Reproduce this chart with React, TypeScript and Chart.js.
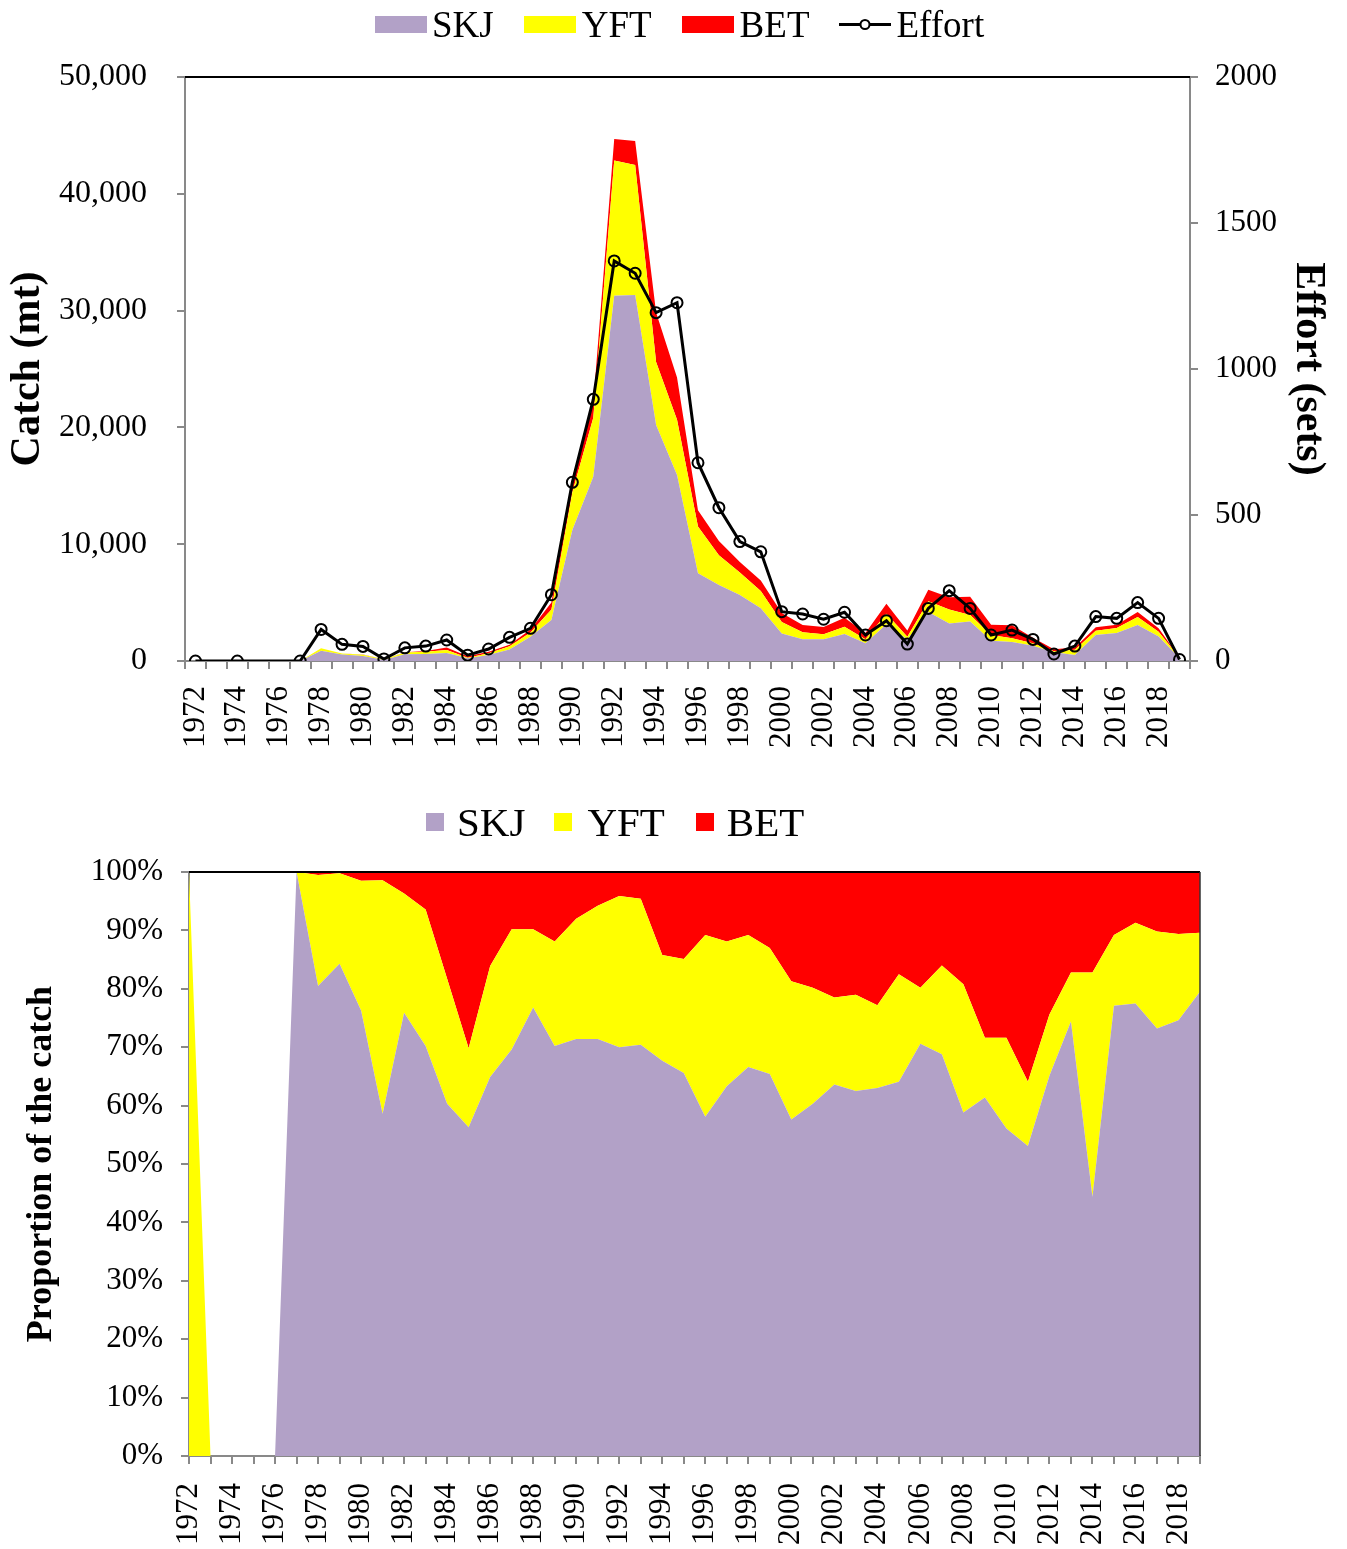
import React, { useEffect, useRef } from 'react';
import { Chart, registerables } from 'chart.js';

Chart.register(...registerables);

const years = [
  '1972', '1973', '1974', '1975', '1976', '1977', '1978', '1979', '1980', '1981',
  '1982', '1983', '1984', '1985', '1986', '1987', '1988', '1989', '1990', '1991',
  '1992', '1993', '1994', '1995', '1996', '1997', '1998', '1999', '2000', '2001',
  '2002', '2003', '2004', '2005', '2006', '2007', '2008', '2009', '2010', '2011',
  '2012', '2013', '2014', '2015', '2016', '2017', '2018', '2019',
];

// Catch (mt)
const skjCatch = [0, 0, 0, 0, 0, 5, 886, 548, 420, 88, 569, 597, 693, 225, 519, 974, 2074, 3510, 11210, 15780, 31280, 31335, 20205, 15925, 7505, 6507, 5650, 4509, 2362, 1855, 1855, 2313, 1512, 3141, 1836, 4197, 3205, 3377, 1739, 1620, 1302, 744, 511, 2236, 2403, 3074, 2089, 239];
const yftCatch = [20, 0, 0, 0, 0, 0, 209, 101, 122, 60, 153, 199, 246, 54, 152, 288, 362, 895, 3234, 5039, 11575, 11128, 5402, 4734, 4017, 2549, 1917, 1489, 972, 612, 435, 611, 341, 902, 250, 927, 1199, 561, 481, 336, 210, 84, 442, 351, 428, 697, 414, 30];
const betCatch = [0, 0, 0, 0, 0, 0, 5, 1, 8, 2, 28, 54, 210, 121, 129, 137, 265, 595, 1256, 1282, 1832, 2047, 4238, 3617, 1395, 1223, 916, 896, 767, 609, 627, 777, 547, 858, 515, 976, 1046, 1562, 880, 1095, 488, 172, 198, 313, 270, 428, 297, 31];

// Effort (sets)
const effort = [0, null, 0, null, null, 0, 108, 57, 50, 7, 45, 51, 72, 20, 41, 81, 112, 227, 612, 896, 1370, 1328, 1193, 1227, 679, 525, 409, 374, 169, 161, 143, 167, 89, 138, 58, 180, 241, 180, 89, 106, 74, 24, 51, 152, 146, 200, 146, 5];

// Proportion of the catch (%)
const skjPct = [0, 0, 0, 0, 0, 100, 80.5, 84.3, 76.3, 58.6, 75.9, 70.2, 60.3, 56.3, 64.9, 69.6, 76.8, 70.2, 71.4, 71.4, 70.0, 70.4, 67.7, 65.6, 58.1, 63.3, 66.6, 65.4, 57.6, 60.3, 63.6, 62.5, 63.0, 64.1, 70.6, 68.8, 58.8, 61.4, 56.1, 53.1, 65.1, 74.4, 44.4, 77.1, 77.5, 73.2, 74.6, 79.5];
const yftPct = [100, 0, 0, 0, 0, 0, 19.0, 15.5, 22.2, 40.0, 20.4, 23.4, 21.4, 13.5, 19.0, 20.6, 13.4, 17.9, 20.6, 22.8, 25.9, 25.0, 18.1, 19.5, 31.1, 24.8, 22.6, 21.6, 23.7, 19.9, 14.9, 16.5, 14.2, 18.4, 9.6, 15.2, 22.0, 10.2, 15.5, 11.0, 10.5, 8.4, 38.4, 12.1, 13.8, 16.6, 14.8, 10.1];
const betPct = [0, 0, 0, 0, 0, 0, 0.5, 0.2, 1.5, 1.4, 3.7, 6.4, 18.3, 30.2, 16.1, 9.8, 9.8, 11.9, 8.0, 5.8, 4.1, 4.6, 14.2, 14.9, 10.8, 11.9, 10.8, 13.0, 18.7, 19.8, 21.5, 21.0, 22.8, 17.5, 19.8, 16.0, 19.2, 28.4, 28.4, 35.9, 24.4, 17.2, 17.2, 10.8, 8.7, 10.2, 10.6, 10.4];

const catchTicks = [0, 10000, 20000, 30000, 40000, 50000];
const effortTicks = [0, 500, 1000, 1500, 2000];
const pctTicks = [0, 10, 20, 30, 40, 50, 60, 70, 80, 90, 100];

const FONT = '"Liberation Serif", "Times New Roman", Times, serif';
const C_SKJ = '#B2A1C7';
const C_YFT = '#FFFF00';
const C_BET = '#FF0000';
const AXIS = '#898989';

const framePlugin = (right: boolean) => ({
  id: 'frame',
  afterDatasetsDraw(chart: any) {
    const { ctx, chartArea: a } = chart;
    ctx.save();
    ctx.strokeStyle = '#000';
    ctx.lineWidth = 2;
    ctx.beginPath();
    ctx.moveTo(a.left, a.top);
    ctx.lineTo(a.right, a.top);
    ctx.stroke();
    if (right) {
      ctx.strokeStyle = '#333';
      ctx.lineWidth = 1.5;
      ctx.beginPath();
      ctx.moveTo(a.right, a.top);
      ctx.lineTo(a.right, a.bottom);
      ctx.stroke();
    }
    ctx.restore();
  },
});

const xScale = (offset: boolean, height: number, pad: number) => ({
  type: 'category',
  offset,
  z: 1,
  grid: { display: true, drawOnChartArea: false, drawTicks: true, tickLength: 8, color: AXIS, lineWidth: 2, offset },
  border: { display: true, color: AXIS, width: 2 },
  ticks: {
    autoSkip: false,
    maxRotation: 90,
    minRotation: 90,
    padding: pad,
    color: '#000',
    font: { family: FONT, size: 31 },
    callback: (_v: any, i: number) => (i % 2 === 0 ? years[i] : ''),
  },
  afterFit: (s: any) => { s.height = height; },
});

const area = (label: string, data: number[], color: string, fill: any) => ({
  label,
  data,
  backgroundColor: color,
  borderColor: 'rgba(0,0,0,0)',
  borderWidth: 0,
  pointRadius: 0,
  fill,
  tension: 0,
  yAxisID: 'y',
});

export default function App() {
  const topRef = useRef<HTMLCanvasElement>(null);
  const botRef = useRef<HTMLCanvasElement>(null);

  useEffect(() => {
    const top = new Chart(topRef.current as HTMLCanvasElement, {
      type: 'line',
      data: {
        labels: years,
        datasets: [
          area('SKJ', skjCatch, C_SKJ, 'origin'),
          area('YFT', yftCatch, C_YFT, '-1'),
          area('BET', betCatch, C_BET, '-1'),
          {
            label: 'Effort',
            data: effort,
            yAxisID: 'y1',
            borderColor: '#000',
            borderWidth: 3,
            pointRadius: 5.5,
            pointBorderWidth: 2,
            pointBorderColor: '#000',
            pointBackgroundColor: 'rgba(255,255,255,0)',
            spanGaps: true,
            fill: false,
            tension: 0,
            order: -1,
          },
        ] as any,
      },
      options: {
        animation: false,
        responsive: false,
        maintainAspectRatio: false,
        events: [],
        layout: { padding: { top: 77, left: 0, right: 0, bottom: 0 } },
        plugins: { legend: { display: false }, tooltip: { enabled: false } },
        scales: {
          x: xScale(true, 109, 17) as any,
          y: {
            type: 'linear',
            position: 'left',
            stacked: true,
            min: 0,
            max: 50000,
            z: 1,
            afterBuildTicks: (s: any) => { s.ticks = catchTicks.map((v) => ({ value: v })); },
            grid: { drawOnChartArea: false, tickLength: 8, color: AXIS, lineWidth: 2 },
            border: { display: true, color: AXIS, width: 2 },
            ticks: {
              padding: 30,
              color: '#000',
              font: { family: FONT, size: 32 },
              callback: (v: any) => Number(v).toLocaleString('en-US'),
            },
            title: {
              display: true,
              text: 'Catch (mt)',
              color: '#000',
              font: { family: FONT, size: 42, weight: 'bold', lineHeight: 1.2 },
              padding: { top: 3, bottom: 0 },
            },
            afterFit: (s: any) => { s.width = 185; },
          },
          y1: {
            type: 'linear',
            position: 'right',
            min: 0,
            max: 2000,
            z: 1,
            afterBuildTicks: (s: any) => { s.ticks = effortTicks.map((v) => ({ value: v })); },
            grid: { drawOnChartArea: false, tickLength: 8, color: AXIS, lineWidth: 2 },
            border: { display: true, color: AXIS, width: 2 },
            ticks: {
              padding: 17,
              color: '#000',
              font: { family: FONT, size: 31 },
              callback: (v: any) => String(v),
            },
            title: {
              display: true,
              text: 'Effort (sets)',
              color: '#000',
              font: { family: FONT, size: 42, weight: 'bold', lineHeight: 1.2 },
              padding: { top: 14, bottom: 0 },
            },
            afterFit: (s: any) => { s.width = 157; },
          },
        } as any,
      },
      plugins: [framePlugin(false)],
    } as any);

    const bot = new Chart(botRef.current as HTMLCanvasElement, {
      type: 'line',
      data: {
        labels: years,
        datasets: [
          area('SKJ', skjPct, C_SKJ, 'origin'),
          area('YFT', yftPct, C_YFT, '-1'),
          area('BET', betPct, C_BET, '-1'),
        ] as any,
      },
      options: {
        animation: false,
        responsive: false,
        maintainAspectRatio: false,
        events: [],
        layout: { padding: { top: 97, left: 0, right: 147, bottom: 0 } },
        plugins: { legend: { display: false }, tooltip: { enabled: false } },
        scales: {
          x: xScale(false, 93, 19) as any,
          y: {
            type: 'linear',
            position: 'left',
            stacked: true,
            min: 0,
            max: 100,
            z: 1,
            afterBuildTicks: (s: any) => { s.ticks = pctTicks.map((v) => ({ value: v })); },
            grid: { drawOnChartArea: false, tickLength: 8, color: AXIS, lineWidth: 2 },
            border: { display: true, color: AXIS, width: 2 },
            ticks: {
              padding: 18,
              color: '#000',
              font: { family: FONT, size: 31 },
              callback: (v: any) => `${v}%`,
            },
            title: {
              display: true,
              text: 'Proportion of the catch',
              color: '#000',
              font: { family: FONT, size: 36, weight: 'bold', lineHeight: 1.2 },
              padding: { top: 20, bottom: 0 },
            },
            afterFit: (s: any) => { s.width = 189; },
          },
        } as any,
      },
      plugins: [framePlugin(true)],
    } as any);

    return () => {
      top.destroy();
      bot.destroy();
    };
  }, []);

  const txt = (size: number): React.CSSProperties => ({
    fontFamily: FONT,
    fontSize: size,
    lineHeight: 1,
    color: '#000',
    whiteSpace: 'nowrap',
  });
  const box = (w: number, h: number, c: string, mr: number): React.CSSProperties => ({
    display: 'inline-block',
    width: w,
    height: h,
    background: c,
    marginRight: mr,
    flex: 'none',
  });

  return (
    <div style={{ position: 'absolute', left: 0, top: 0, width: 1347, height: 1549, background: '#fff', overflow: 'hidden' }}>
      <canvas ref={topRef} width={1347} height={770} style={{ position: 'absolute', left: 0, top: 0, width: 1347, height: 770 }} />
      <canvas ref={botRef} width={1347} height={774} style={{ position: 'absolute', left: 0, top: 775, width: 1347, height: 774 }} />

      <div style={{ position: 'absolute', left: 375, top: 3, height: 42, display: 'flex', alignItems: 'center' }}>
        <span style={box(52, 17, C_SKJ, 5)} />
        <span style={{ ...txt(37), marginRight: 30 }}>SKJ</span>
        <span style={box(52, 17, C_YFT, 6)} />
        <span style={{ ...txt(37), marginRight: 30 }}>YFT</span>
        <span style={box(52, 17, C_BET, 6)} />
        <span style={{ ...txt(37), marginRight: 29 }}>BET</span>
        <svg width={52} height={17} style={{ marginRight: 6, flex: 'none' }}>
          <line x1={0} y1={8.5} x2={52} y2={8.5} stroke="#000" strokeWidth={3} />
          <circle cx={26} cy={8.5} r={4.5} stroke="#000" strokeWidth={2} fill="#fff" />
        </svg>
        <span style={txt(37)}>Effort</span>
      </div>

      <div style={{ position: 'absolute', left: 426, top: 799, height: 46, display: 'flex', alignItems: 'center' }}>
        <span style={box(18, 18, C_SKJ, 13)} />
        <span style={{ ...txt(41), marginRight: 29 }}>SKJ</span>
        <span style={box(18, 18, C_YFT, 15)} />
        <span style={{ ...txt(41), marginRight: 31 }}>YFT</span>
        <span style={box(18, 18, C_BET, 13)} />
        <span style={txt(41)}>BET</span>
      </div>
    </div>
  );
}
